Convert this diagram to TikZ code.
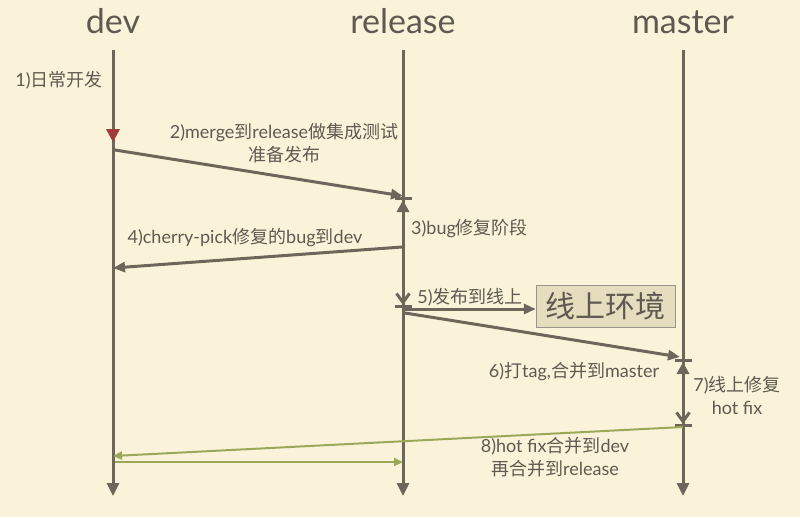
\documentclass[tikz,border=0pt]{standalone}
\usepackage{fontspec}
\setmainfont{Lato}
\newfontfamily\cjk{Noto Sans CJK SC}
\usetikzlibrary{arrows.meta, positioning}
\definecolor{gfBack}{RGB}{251, 243, 217}
\definecolor{gfLine}{RGB}{110, 102, 91}
\definecolor{gfText}{RGB}{95, 89, 81}
\definecolor{gfRed}{RGB}{160, 58, 60}
\definecolor{gfGreen}{RGB}{155, 168, 88}
\definecolor{gfBox}{RGB}{230, 220, 190}
\newcommand{\zh}[1]{{\cjk #1}}
\tikzset{
  lane/.style={line width=3pt, gfLine, -{Triangle[length=13pt, width=12pt]}},
  head/.style={font=\fontsize{34}{36}\selectfont, text=gfText, anchor=base},
  flow/.style={line width=3pt, gfLine, -{Triangle[length=12pt, width=10pt]}},
  hotfix/.style={line width=2pt, gfGreen, -{Triangle[length=9pt, width=8pt]}},
  phase/.style={line width=3pt, gfLine, {Bar[width=17pt]Triangle[length=12pt, width=12pt]}-{Straight Barb[length=9pt, width=13pt]Bar[width=17pt]}},
  lbl/.style={font=\fontsize{18}{23}\selectfont, text=gfText, align=center, inner sep=0pt},
  envbox/.style={draw=gfLine!70, fill=gfBox, font=\fontsize{30}{32}\selectfont, text=gfText, minimum width=139pt, minimum height=42pt, inner sep=2pt},
}

\begin{document}
\begin{tikzpicture}[x=1pt, y=-1pt]
  \fill[gfBack] (0,0) rectangle (800,517);
  \useasboundingbox (0,0) rectangle (800,517);

  % Branch heads
  \node[head] (dev) at (113,33) {dev};
  \node[head] (release) at (403,33) {release};
  \node[head] (master) at (683,33) {master};

  % Lanes
  \coordinate (devtop) at (113,50);
  \coordinate (devend) at (113,496);
  \coordinate (reltop) at (403,50);
  \coordinate (relend) at (403,496);
  \coordinate (mastop) at (683,50);
  \coordinate (masend) at (683,496);
  \draw[lane] (devtop) -- (devend);
  \draw[lane] (reltop) -- (relend);
  \draw[lane] (mastop) -- (masend);

  % 1) daily development
  \node[lbl] (l1) at (59,80) {1)\zh{日常开发}};
  \fill[gfRed] (106,129) -- (120,129) -- (113,142) -- cycle;

  % 2) merge to release
  \coordinate (d2) at (115,150);
  \coordinate (r2) at (403,196);
  \draw[flow] (d2) -- (r2);
  \node[lbl] (l2) at (284,143) {2)merge\zh{到}release\zh{做集成测试}\\\zh{准备发布}};

  % 3) bug fixing
  \coordinate (r3a) at (403,197);
  \coordinate (r3b) at (403,308);
  \draw[phase] (r3a) -- (r3b);
  \node[lbl, anchor=west] (l3) at (411,229) {3)bug\zh{修复阶段}};

  % 4) cherry-pick
  \coordinate (r4) at (402,247);
  \coordinate (d4) at (113,268);
  \draw[flow] (r4) -- (d4);
  \node[lbl] (l4) at (245,238) {4)cherry-pick\zh{修复的}bug\zh{到}dev};

  % 5) release online
  \node[envbox] (env) at (605.5,306) {\zh{线上环境}};
  \coordinate (r5) at (405,309);
  \draw[flow] (r5) -- (r5 -| env.west);
  \node[lbl] (l5) at (470,297) {5)\zh{发布到线上}};

  % 6) tag and merge to master
  \coordinate (r6) at (405,313);
  \coordinate (m6) at (680,357);
  \draw[flow] (r6) -- (m6);
  \node[lbl] (l6) at (574,372) {6)\zh{打}tag,\zh{合并到}master};

  % 7) hot fix
  \coordinate (m7a) at (683,359);
  \coordinate (m7b) at (683,427);
  \draw[phase] (m7a) -- (m7b);
  \node[lbl] (l7) at (737,395) {7)\zh{线上修复}\\hot fix};

  % 8) merge hot fix back
  \coordinate (m8) at (683,427);
  \coordinate (d8) at (113,456);
  \draw[hotfix] (m8) -- (d8);
  \coordinate (d8b) at (115,462);
  \coordinate (r8) at (403,462);
  \draw[hotfix] (d8b) -- (r8);
  \node[lbl] (l8) at (555,457) {8)hot fix\zh{合并到}dev\\\zh{再合并到}release};
\end{tikzpicture}
\end{document}
